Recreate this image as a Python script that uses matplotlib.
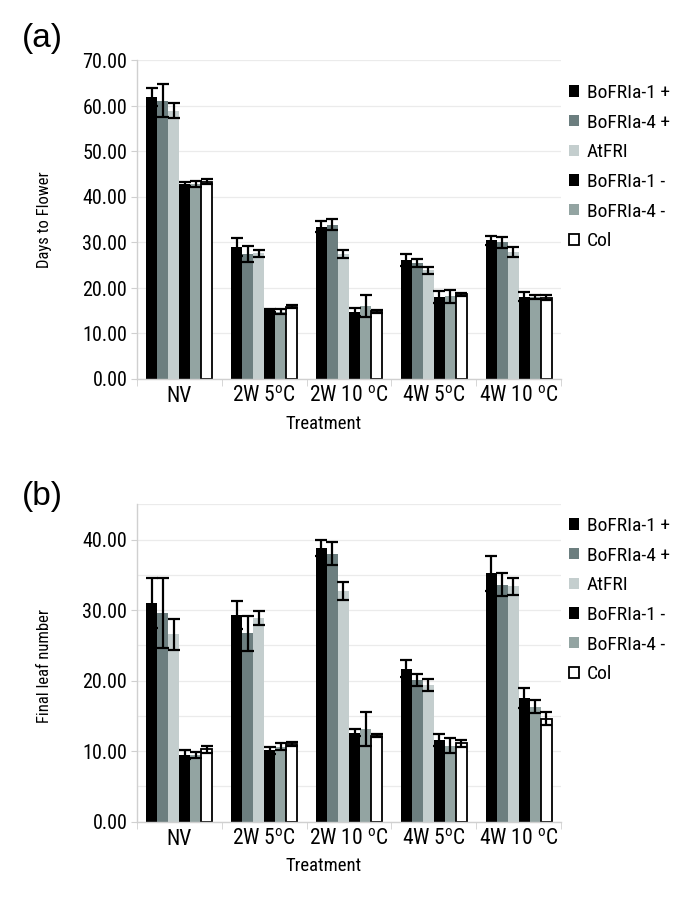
import matplotlib
matplotlib.use('Agg')
import matplotlib.pyplot as plt
import matplotlib.font_manager as fm
from matplotlib.ticker import FormatStrFormatter, MultipleLocator
import numpy as np

# dane
treatments = ['NV', '2W 5$^{\\mathrm{o}}$C', '2W 10 $^{\\mathrm{o}}$C',
              '4W 5$^{\\mathrm{o}}$C', '4W 10 $^{\\mathrm{o}}$C']
lines = ['BoFRIa-1 +', 'BoFRIa-4 +', 'AtFRI', 'BoFRIa-1 -', 'BoFRIa-4 -', 'Col']
colors = ['#000000', '#6c7e7f', '#c4cece', '#000000', '#93a4a2', '#ffffff']

# (a) Days to Flower, jeden wiersz na linię
days_mean = [
    [62.0, 29.0, 33.5, 26.2, 30.5],
    [61.2, 27.5, 33.9, 25.5, 30.0],
    [59.0, 27.6, 27.5, 23.9, 28.0],
    [42.9, 15.1, 14.7, 18.0, 18.1],
    [42.9, 14.8, 16.0, 18.2, 18.0],
    [43.4, 15.9, 14.9, 18.6, 17.9],
]
days_err = [
    [2.0, 1.9, 1.3, 1.3, 1.0],
    [3.6, 1.8, 1.2, 0.8, 1.1],
    [1.6, 0.8, 0.9, 0.75, 1.1],
    [0.4, 0.3, 0.8, 1.3, 1.0],
    [0.7, 0.5, 2.4, 1.4, 0.4],
    [0.5, 0.3, 0.3, 0.3, 0.5],
]

# (b) Final leaf number
leaf_mean = [
    [31.0, 29.3, 38.8, 21.7, 35.2],
    [29.6, 26.7, 38.0, 20.1, 33.6],
    [26.6, 28.9, 32.7, 19.4, 33.35],
    [9.5, 10.1, 12.6, 11.6, 17.5],
    [9.5, 10.6, 13.2, 10.8, 16.3],
    [10.3, 11.0, 12.2, 11.1, 14.6],
]
leaf_err = [
    [3.5, 2.0, 1.1, 1.2, 2.5],
    [5.0, 2.5, 1.6, 0.8, 1.6],
    [2.2, 1.0, 1.3, 0.85, 1.25],
    [0.6, 0.5, 0.5, 0.9, 1.4],
    [0.4, 0.5, 2.4, 1.0, 0.9],
    [0.5, 0.3, 0.2, 0.45, 0.9],
]

# czcionka - wąska jeśli dostępna
names = {f.name for f in fm.fontManager.ttflist}
narrow = 'Liberation Sans'
for cand in ['Liberation Sans Narrow', 'Roboto Condensed', 'Open Sans Condensed', 'Arial Narrow']:
    if cand in names:
        narrow = cand
        break
plt.rcParams['font.family'] = [narrow, 'Liberation Sans', 'DejaVu Sans']
plt.rcParams['mathtext.fontset'] = 'custom'
plt.rcParams['mathtext.rm'] = narrow
plt.rcParams['mathtext.it'] = narrow

W, H = 685, 913
fig = plt.figure(figsize=(W / 100, H / 100), dpi=100)

axis_col = '#d0d0d0'
grid_col = '#ebebeb'
bw = 0.13


def draw_panel(ax, means, errs, ymax, minor, ylabel, ylab_y, leg_top):
    x = np.arange(len(treatments))
    for i in range(len(lines)):
        ax.bar(x + (i - 2.5) * bw, means[i], bw,
               color=colors[i],
               edgecolor='black' if i == 5 else colors[i],
               linewidth=1.3 if i == 5 else 0,
               yerr=errs[i], capsize=4.5,
               error_kw=dict(elinewidth=1.6, capthick=1.6, ecolor='black', zorder=4),
               label=lines[i], zorder=2)

    ax.set_xlim(-0.5, len(treatments) - 0.5)
    ax.set_ylim(0, ymax)
    ax.yaxis.set_major_locator(MultipleLocator(10))
    if minor:
        ax.yaxis.set_minor_locator(MultipleLocator(5))
        ax.tick_params(axis='y', which='minor', length=0)
    ax.yaxis.set_major_formatter(FormatStrFormatter('%.2f'))
    ax.yaxis.grid(True, which='both', color=grid_col, linewidth=0.9)
    ax.set_axisbelow(True)

    ax.set_xticks(x)
    ax.set_xticklabels(treatments)
    ax.set_xticks(np.arange(-0.5, len(treatments)), minor=True)
    ax.tick_params(axis='x', which='major', length=0, pad=5, labelsize=15.5)
    ax.tick_params(axis='x', which='minor', length=5, color=axis_col)
    ax.tick_params(axis='y', which='major', length=4, color=axis_col, pad=3, labelsize=14.5)

    for s in ['top', 'right']:
        ax.spines[s].set_visible(False)
    for s in ['left', 'bottom']:
        ax.spines[s].set_color(axis_col)
        ax.spines[s].set_linewidth(1.0)

    ax.set_xlabel('Treatment', fontsize=13.5)
    ax.xaxis.set_label_coords(0.44, -0.112)
    ax.set_ylabel(ylabel, fontsize=12)
    ax.yaxis.set_label_coords(-0.20, ylab_y)

    ax.legend(loc='upper left', bbox_to_anchor=(569 / W, leg_top),
              bbox_transform=fig.transFigure, frameon=False,
              fontsize=14, handlelength=0.52, handleheight=0.52,
              handletextpad=0.4, borderpad=0, borderaxespad=0,
              labelspacing=0.6)


left, width = 137 / W, (561 - 137) / W

ax1 = fig.add_axes([left, 1 - 379 / H, width, (379 - 60.5) / H])
draw_panel(ax1, days_mean, days_err, 70, False, 'Days to Flower', 0.5, 1 - 84 / H)

ax2 = fig.add_axes([left, 1 - 821.7 / H, width, (821.7 - 504.3) / H])
draw_panel(ax2, leaf_mean, leaf_err, 45, True, 'Final leaf number', 0.49, 1 - 517 / H)

fig.text(22 / W, 1 - 54 / H, '(a)', fontsize=24, family='Liberation Sans', ha='left', va='bottom')
fig.text(22 / W, 1 - 512 / H, '(b)', fontsize=24, family='Liberation Sans', ha='left', va='bottom')

fig.savefig('out.png', dpi=100)
